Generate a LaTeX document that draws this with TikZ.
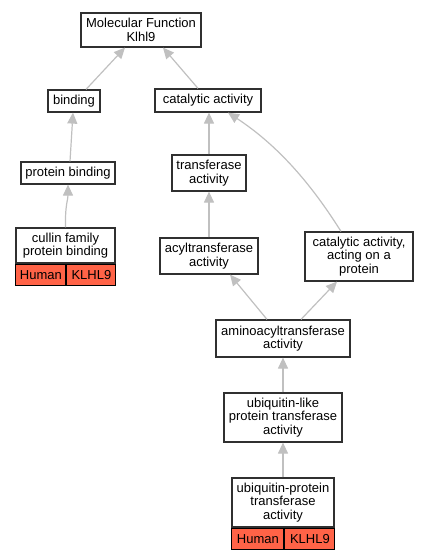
\documentclass[tikz,border=0pt]{standalone}
\usepackage{fontspec}
\setmainfont{Liberation Sans}
\usetikzlibrary{arrows.meta, positioning}
\definecolor{edgegray}{HTML}{C0C0C0}
\definecolor{boxline}{HTML}{303030}
\definecolor{hitred}{HTML}{FF6347}

\begin{document}
\begin{tikzpicture}[x=1pt, y=-1pt,
    term/.style={draw=boxline, line width=1.2pt, fill=white, align=center, inner sep=0pt, font=\fontsize{13}{13.5}\selectfont},
    hit/.style={draw=black, line width=1pt, fill=hitred, inner sep=0pt, minimum height=21pt, anchor=north west, font=\fontsize{13}{13.5}\selectfont},
    isa/.style={draw=edgegray, line width=1.2pt, -{Triangle[length=11pt, width=10pt]}}]
\useasboundingbox (0,0) rectangle (428,560);

% terms
\node[term, minimum width=120pt, minimum height=34pt] (mf) at (141,30) {Molecular Function\\Klhl9};
\node[term, minimum width=52pt, minimum height=22pt] (bind) at (74,101) {binding};
\node[term, minimum width=106pt, minimum height=23pt] (cat) at (208,100.5) {catalytic activity};
\node[term, minimum width=94pt, minimum height=22pt] (pbind) at (68,173) {protein binding};
\node[term, minimum width=74pt, minimum height=36pt] (trans) at (209,173) {transferase\\activity};
\node[term, minimum width=99pt, minimum height=35pt] (cullin) at (65.5,245.5) {cullin family\\protein binding};
\node[term, minimum width=98pt, minimum height=36pt] (acyl) at (209,256) {acyltransferase\\activity};
\node[term, minimum width=108pt, minimum height=49pt] (catprot) at (359,256.5) {catalytic activity,\\acting on a\\protein};
\node[term, minimum width=134pt, minimum height=37pt] (amino) at (283,338.5) {aminoacyltransferase\\activity};
\node[term, minimum width=118pt, minimum height=49pt] (ubl) at (283,417.5) {ubiquitin-like\\protein transferase\\activity};
\node[term, minimum width=102pt, minimum height=49pt] (ubp) at (283,502.5) {ubiquitin-protein\\transferase\\activity};

% annotations
\node[hit, minimum width=50pt] (cullinhs) at (cullin.south west) {Human};
\node[hit, minimum width=49pt] (cullinkl) at (cullinhs.north east) {KLHL9};
\node[hit, minimum width=52pt] (ubphs) at (ubp.south west) {Human};
\node[hit, minimum width=50pt] (ubpkl) at (ubphs.north east) {KLHL9};

% is_a edges
\draw[isa] ([xshift=12pt]bind.north) -- ([xshift=-16pt]mf.south);
\draw[isa] ([xshift=-10pt]cat.north) -- ([xshift=22pt]mf.south);
\draw[isa] ([xshift=2pt]pbind.north) -- ([xshift=-1pt]bind.south);
\draw[isa] (cullin.north) .. controls (65,205) and (68,200) .. (pbind.south);
\draw[isa] (trans.north) -- ([xshift=1pt]cat.south);
\draw[isa] ([xshift=-18pt]catprot.north) .. controls (318,195) and (285,150) .. ([xshift=20pt]cat.south);
\draw[isa] (acyl.north) -- (trans.south);
\draw[isa] ([xshift=-16pt]amino.north) -- ([xshift=21pt]acyl.south);
\draw[isa] ([xshift=18pt]amino.north) -- ([xshift=-22pt]catprot.south);
\draw[isa] (ubl.north) -- (amino.south);
\draw[isa] (ubp.north) -- (ubl.south);

\end{tikzpicture}
\end{document}
